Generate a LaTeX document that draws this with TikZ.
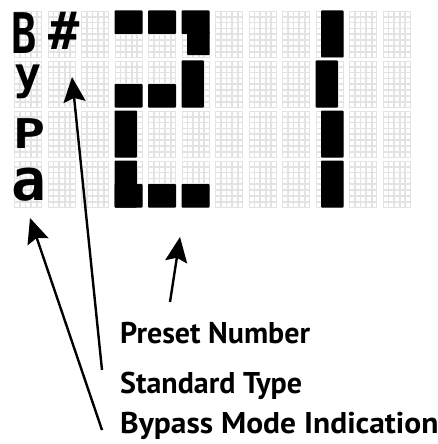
\documentclass[tikz,border=0pt]{standalone}
\usepackage{fontspec}
\setmainfont{PT Sans}
\newfontfamily\lcdfont{DejaVu Sans Mono}
\usetikzlibrary{arrows.meta}
\newcommand\blk[6]{\fill[seg] ({14+33.5*#1+5.6*#3},{10.5+50*#2+5.875*#4}) rectangle ({14+33.5*#1+5.6*#5},{10.5+50*#2+5.875*#6});}
\begin{document}
\begin{tikzpicture}[x=1pt,y=-1pt,
  dot/.style={draw=gray!22,line width=0.35pt,fill=white},
  seg/.style={fill=black,rounded corners=0.8pt},
  lbl/.style={font=\bfseries\fontsize{30}{30}\selectfont,anchor=base west,inner sep=0},
  lcd/.style={inner sep=0,anchor=base},
  pointer/.style={line width=2.4pt,-{Stealth[length=25pt,width=22pt,inset=4pt]}}]
\useasboundingbox (0,0) rectangle (438,444);
\fill[white] (0,0) rectangle (438,444);
\foreach \c in {0,...,11}{
 \foreach \r in {0,...,3}{
  \foreach \i in {0,...,4}{
   \foreach \j in {0,...,7}{
     \path[dot] ({14+33.5*\c+5.6*\i+0.4},{10.5+50*\r+5.875*\j+0.4}) rectangle ++(4.8,5.075);
}}}}
% big "2"
\blk{3}{0}{0}{0}{5}{4}
\blk{4}{0}{0}{0}{5}{4}
\blk{5}{0}{0}{0}{5}{4}
\blk{5}{0}{1}{3.5}{5}{7.6}
\blk{3}{1}{0}{4}{5}{8}
\blk{4}{1}{0}{4}{5}{8}
\blk{5}{1}{0}{0}{4}{8}
\blk{3}{2}{0}{0}{4}{8}
\blk{3}{3}{0}{0}{4}{8}
\blk{3}{3}{0}{4}{5}{8}
\blk{4}{3}{0}{4}{5}{8}
\blk{5}{3}{0}{4}{5}{8}
% big "1"
\blk{9}{0}{1}{0}{5}{8}
\blk{9}{1}{0}{0}{4}{8}
\blk{9}{2}{1}{0}{5}{8}
\blk{9}{3}{1}{0}{5}{8}
% LCD characters
\node[lcd,font=\lcdfont\bfseries\fontsize{56}{56}\selectfont] (chB) at (24.5,53) {\scalebox{0.75}[1]{B}};
\node[lcd,font=\lcdfont\bfseries\fontsize{52}{52}\selectfont] (chH) at (64,50) {\#};
\node[lcd,font=\lcdfont\bfseries\fontsize{45}{45}\selectfont] (chy) at (28.5,89.5) {y};
\node[lcd,font=\lcdfont\bfseries\fontsize{41}{41}\selectfont] (chP) at (30,148) {\scalebox{1.3}[1]{P}};
\node[lcd,font=\lcdfont\bfseries\fontsize{58}{58}\selectfont] (cha) at (28.5,200) {a};
% labels
\node[lbl] (preset) at (120,343) {Preset Number};
\node[lbl] (std) at (120,393) {Standard Type};
\node[lbl] (byp) at (120,433) {\scalebox{1.05}[1]{Bypass Mode Indication}};
% arrows
\coordinate (presetTail) at (170,302);
\coordinate (presetTip) at (180,237);
\coordinate (stdTail) at (102,370);
\coordinate (stdTip) at (72,77);
\coordinate (bypTail) at (102,430);
\coordinate (bypTip) at (30,218);
\draw[pointer] (presetTail) -- (presetTip);
\draw[pointer] (stdTail) -- (stdTip);
\draw[pointer] (bypTail) -- (bypTip);
\end{tikzpicture}
\end{document}
